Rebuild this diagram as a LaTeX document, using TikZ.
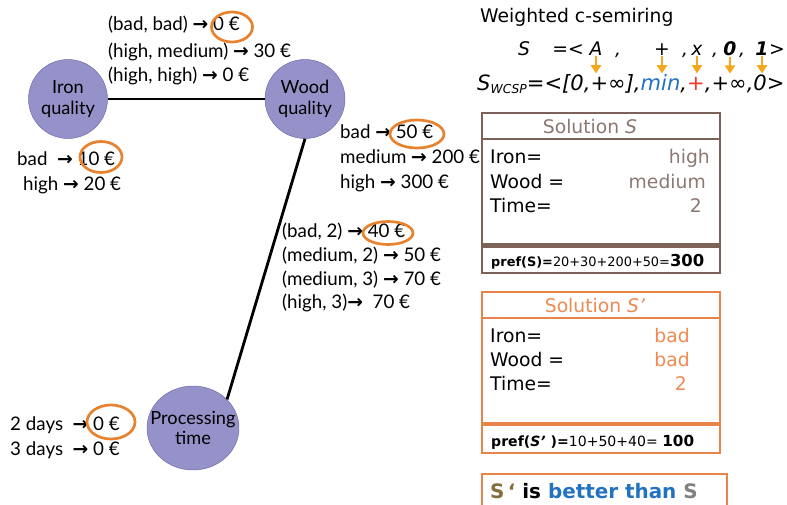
\documentclass[tikz,border=0pt]{standalone}
\usepackage{fontspec}
\setmainfont{DejaVu Sans}
\newfontfamily\lblfont{Lato}
\newfontfamily\arrfont{DejaVu Sans}
\usetikzlibrary{shapes.geometric,arrows.meta}

\definecolor{nodefill}{HTML}{9591C9}
\definecolor{nodeline}{HTML}{6E69A6}
\definecolor{ringorange}{HTML}{E8822E}
\definecolor{yarrow}{HTML}{F5A81C}
\definecolor{minblue}{HTML}{2173C2}
\definecolor{plusred}{HTML}{F0392B}
\definecolor{sbrown}{HTML}{7D6259}
\definecolor{stext}{HTML}{8C7872}
\definecolor{sorange}{HTML}{E8834A}
\definecolor{otext}{HTML}{EE8A52}
\definecolor{olive}{HTML}{846D3B}
\definecolor{sgray}{HTML}{808080}

\newcommand{\arr}{{\arrfont\bfseries →}}

\tikzset{
  var/.style={ellipse, draw=nodeline, fill=nodefill, align=center, inner xsep=-10pt, inner ysep=0pt,
    font=\lblfont\fontsize{15.5}{17.5}\selectfont},
  edge/.style={line width=2.4pt},
  lbl/.style={anchor=base west, inner sep=0pt, font=\lblfont\fontsize{16}{18}\selectfont},
  hl/.style={ellipse, draw=ringorange, line width=2.3pt, inner sep=0pt},
  fml/.style={anchor=base, inner sep=1pt, font=\itshape\fontsize{16}{18}\selectfont},
  yarr/.style={draw=yarrow, line width=1.8pt, -{Triangle[length=7pt,width=8.5pt]}},
  txt/.style={anchor=base west, inner sep=0pt, font=\fontsize{16}{18}\selectfont},
  val/.style={anchor=base east, inner sep=0pt, font=\fontsize{16}{18}\selectfont},
  foot/.style={anchor=base west, inner sep=0pt, font=\fontsize{11}{13}\selectfont},
}

\begin{document}
\begin{tikzpicture}[x=0.03cm, y=-0.03cm]
\useasboundingbox (0,0) rectangle (787,504);

% variables and constraints
\node[var, minimum width=2.37cm, minimum height=2.37cm] (iron) at (68,99) {Iron\\quality};
\node[var, minimum width=2.4cm, minimum height=2.37cm] (wood) at (305,99) {Wood\\quality};
\node[var, minimum width=2.76cm, minimum height=2.52cm] (time) at (193,428) {Processing\\time};

\draw[edge] (iron) -- (wood);
\draw[edge] (wood.south) -- (time.40);

% cost tables
\node[lbl] (iw1) at (108,31) {(bad, bad) \arr\ 0 €};
\node[lbl] (iw2) at (108,57) {(high, medium) \arr\ 30 €};
\node[lbl] (iw3) at (108,81) {(high, high) \arr\ 0 €};

\node[lbl] (ir1) at (17,165) {bad \ \arr\ 10 €};
\node[lbl] (ir2) at (23,190) {high \arr\ 20 €};

\node[lbl] (wd1) at (340,138) {bad \arr\ 50 €};
\node[lbl] (wd2) at (340,163) {medium \arr\ 200 €};
\node[lbl] (wd3) at (340,188) {high \arr\ 300 €};

\node[lbl] (wt1) at (282,237) {(bad, 2) \arr\ 40 €};
\node[lbl] (wt2) at (282,261) {(medium, 2) \arr\ 50 €};
\node[lbl] (wt3) at (282,285) {(medium, 3) \arr\ 70 €};
\node[lbl] (wt4) at (282,308) {(high, 3)\arr\ \ 70 €};

\node[lbl] (tm1) at (10,430) {2 days \ \arr\ 0 €};
\node[lbl] (tm2) at (10,455) {3 days \ \arr\ 0 €};

% chosen costs
\node[hl, minimum width=1.23cm, minimum height=0.9cm] (hl1) at (232,27) {};
\node[hl, minimum width=1.26cm, minimum height=0.93cm] (hl2) at (101,157) {};
\node[hl, minimum width=1.62cm, minimum height=0.84cm] (hl3) at (417,134) {};
\node[hl, minimum width=1.5cm, minimum height=0.69cm] (hl4) at (388,233) {};
\node[hl, minimum width=1.44cm, minimum height=1.02cm] (hl5) at (111,422) {};

% semiring
\node[txt] (title) at (480,22) {Weighted c-semiring};

\node[fml] (sS) at (524,55) {S};
\node[fml] (sLt) at (568,55) {=<};
\node[fml] (sA) at (596,55) {A};
\node[fml] (sC1) at (618,55) {,};
\node[fml] (sPlus) at (662,55) {+};
\node[fml] (sC2) at (685,55) {,};
\node[fml] (sX) at (697,55) {x};
\node[fml] (sC3) at (715,55) {,};
\node[fml] (sZero) at (730,55) {\bfseries 0};
\node[fml] (sC4) at (742,55) {,};
\node[fml] (sOne) at (762,55) {\bfseries 1};
\node[fml] (sGt) at (777,55) {>};

\foreach \s in {sA,sPlus,sX,sZero,sOne}
  \draw[yarr] (\s.south) -- ++(0,17);

\node[fml, anchor=base west, inner sep=0pt, font=\itshape\fontsize{18}{20}\selectfont] (swcsp) at (477,90)
  {S\raisebox{-3pt}{\fontsize{10.5}{10.5}\selectfont WCSP}=<[0,+∞],\textcolor{minblue}{min},\textcolor{plusred}{+},+∞,0>};

% solution S
\draw[sbrown, line width=1.8pt] (482,113) rectangle (720,273);
\draw[sbrown, line width=1.8pt] (482,139) -- (720,139);
\draw[sbrown, line width=4pt] (482,245.5) -- (720,245.5);
\node[txt, anchor=base, text=stext] (sol1) at (590,133) {Solution \textit{S}};
\node[txt] (s1a) at (490,163) {Iron=};
\node[txt] (s1b) at (490,188) {Wood =};
\node[txt] (s1c) at (490,212) {Time=};
\node[val, text=stext] (v1a) at (710,163) {high};
\node[val, text=stext] (v1b) at (706,188) {medium};
\node[val, text=stext] (v1c) at (702,212) {2};
\node[foot] (p1) at (491,266) {\textbf{pref(S)=}20+30+200+50=\textbf{\fontsize{14}{14}\selectfont 300}};

% solution S'
\draw[sorange, line width=1.8pt] (482,292) rectangle (720,453);
\draw[sorange, line width=1.8pt] (482,318) -- (720,318);
\draw[sorange, line width=4pt] (482,424) -- (720,424);
\node[txt, anchor=base, text=otext] (sol2) at (595,312) {Solution \textit{S’}};
\node[txt] (s2a) at (490,342) {Iron=};
\node[txt] (s2b) at (490,366) {Wood =};
\node[txt] (s2c) at (490,390) {Time=};
\node[val, text=otext] (v2a) at (690,342) {bad};
\node[val, text=otext] (v2b) at (690,366) {bad};
\node[val, text=otext] (v2c) at (687,390) {2};
\node[foot, font=\fontsize{12}{14}\selectfont] (p2) at (491,446) {\textbf{pref(\textit{S’} )=}10+50+40= \textbf{\fontsize{13}{13}\selectfont 100}};

% verdict
\draw[sorange, line width=1.8pt] (482,506) -- (482,474) -- (727,474) -- (727,506);
\node[txt, font=\bfseries\fontsize{17}{19}\selectfont] (res) at (490,498)
  {\textcolor{olive}{S\,‘} is \textcolor{minblue}{better than} \textcolor{sgray}{S}};

\end{tikzpicture}
\end{document}
